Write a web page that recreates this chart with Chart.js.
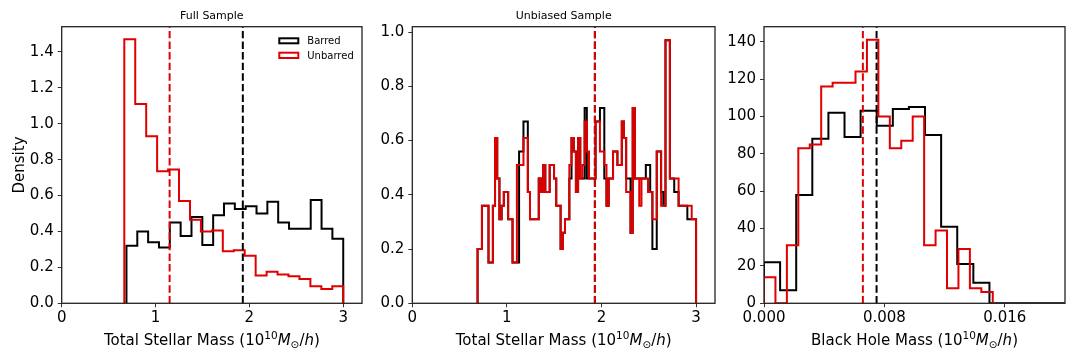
<!DOCTYPE html>
<html>
<head>
<meta charset="utf-8">
<script src="https://cdn.jsdelivr.net/npm/chart.js@4.4.0/dist/chart.umd.min.js"></script>
<style>
html, body { margin: 0; padding: 0; background: #fff; }
#wrap { position: relative; width: 1080px; height: 360px; }
canvas { position: absolute; top: 0; }
</style>
</head>
<body>
<div id="wrap">
  <canvas id="c1" width="370" height="360" style="left:0px"></canvas>
  <canvas id="c2" width="355" height="360" style="left:370px"></canvas>
  <canvas id="c3" width="355" height="360" style="left:725px"></canvas>
</div>
<script>
// ---- data ----
// Full sample: total stellar mass density, 20 bins each
const fullRangeBarred = [0.69, 3.0];
const fullRangeUnbarred = [0.667, 3.0];
const fullBarred = [0.32, 0.40, 0.34, 0.31, 0.45, 0.375, 0.48, 0.325, 0.49, 0.555,
                    0.525, 0.54, 0.50, 0.565, 0.45, 0.415, 0.415, 0.575, 0.415, 0.36];
const fullUnbarred = [1.47, 1.11, 0.93, 0.735, 0.745, 0.57, 0.465, 0.40, 0.405, 0.29,
                      0.295, 0.265, 0.155, 0.175, 0.16, 0.15, 0.135, 0.095, 0.08, 0.095];
const fullMeans = [1.93, 1.15]; // barred, unbarred

// Unbiased sample: 100 bins
const unbiasedRange = [0.69, 3.0];
const unbiasedBarred = [
  .20,.20,.36,.36,.36,.15,.15,.36,.61,.46,
  .31,.36,.41,.41,.31,.31,.15,.15,.15,.56,
  .56,.67,.67,.41,.31,.31,.31,.31,.46,.41,
  .51,.41,.41,.51,.51,.46,.36,.36,.20,.26,
  .31,.31,.46,.61,.56,.41,.61,.46,.46,.72,
  .46,.46,.46,.46,.67,.67,.72,.72,.46,.36,
  .46,.46,.56,.56,.51,.51,.67,.61,.46,.46,
  .26,.72,.46,.46,.46,.46,.46,.51,.51,.41,
  .20,.20,.56,.56,.41,.36,.97,.97,.46,.46,
  .41,.41,.36,.36,.36,.36,.31,.31,.31,.31];
const unbiasedUnbarred = [
  .20,.20,.36,.36,.36,.15,.15,.36,.61,.46,
  .31,.36,.41,.41,.31,.31,.15,.15,.51,.51,
  .51,.61,.61,.41,.31,.31,.31,.31,.46,.41,
  .51,.41,.41,.51,.51,.46,.36,.36,.20,.26,
  .31,.31,.51,.61,.56,.41,.61,.46,.51,.67,
  .56,.46,.46,.46,.67,.67,.56,.56,.51,.36,
  .46,.46,.56,.56,.51,.51,.67,.61,.41,.41,
  .26,.72,.46,.46,.36,.46,.46,.46,.41,.41,
  .31,.31,.56,.56,.36,.36,.97,.97,.46,.46,
  .46,.46,.36,.36,.36,.36,.36,.36,.31,.31];
const unbiasedMeans = [1.93, 1.93];

// Black hole mass, 20 bins each
const bhRangeBarred = [0, 0.0214];
const bhRangeUnbarred = [0, 0.0152];
const bhBarred = [22, 7, 58, 88, 102, 89, 103, 95, 104, 105, 90, 41, 21, 11, 0, 0, 0, 0, 0, 0];
const bhUnbarred = [14, 0, 31, 83, 85, 116, 118, 118, 124, 141, 100, 83, 87, 100, 31, 39, 8, 29, 8, 6];
const bhMeans = [0.00748, 0.00657];

const massTicks = [0, 1, 2, 3];
const fullYTicks = [0, 0.2, 0.4, 0.6, 0.8, 1.0, 1.2, 1.4];
const unbiasedYTicks = [0, 0.2, 0.4, 0.6, 0.8, 1.0];
const bhXTicks = [0, 0.008, 0.016];
const bhYTicks = [0, 20, 40, 60, 80, 100, 120, 140];

// ---- drawing ----
const RED = '#e00000';
const BLACK = '#000000';
const FONT = '"DejaVu Sans"';
Chart.defaults.font.family = FONT;
Chart.defaults.color = '#000';

function stepPoints(range, vals) {
  const w = (range[1] - range[0]) / vals.length;
  const pts = [{x: range[0], y: 0}];
  vals.forEach((v, i) => pts.push({x: range[0] + i * w, y: v}));
  pts.push({x: range[1], y: 0});
  return pts;
}

function hist(color, range, vals) {
  return {
    data: stepPoints(range, vals), borderColor: color, borderWidth: 2,
    stepped: 'before', pointRadius: 0, fill: false, borderJoinStyle: 'miter'
  };
}

function meanLine(color, x, top) {
  return {
    data: [{x: x, y: 0}, {x: x, y: top}], borderColor: color, borderWidth: 2,
    borderDash: [7.4, 3.2], pointRadius: 0, fill: false
  };
}

function massLabel(name) {
  return [
    {t: name + ' (10', font: `15px ${FONT}`},
    {t: '10', font: `10.5px ${FONT}`, dy: -6},
    {t: 'M', font: `italic 15px ${FONT}`},
    {t: '\u2299', font: `10.5px ${FONT}`, dy: 2.5},
    {t: '/', font: `15px ${FONT}`},
    {t: 'h', font: `italic 15px ${FONT}`},
    {t: ')', font: `15px ${FONT}`}
  ];
}

function drawRich(ctx, segs, cx, baseline) {
  let total = 0;
  segs.forEach(s => { ctx.font = s.font; s.w = ctx.measureText(s.t).width; total += s.w; });
  let x = cx - total / 2;
  ctx.textAlign = 'left';
  ctx.textBaseline = 'alphabetic';
  ctx.fillStyle = '#000';
  segs.forEach(s => { ctx.font = s.font; ctx.fillText(s.t, x, baseline + (s.dy || 0)); x += s.w; });
}

function decor(cfg) {
  return {
    id: 'decor',
    afterDraw(chart) {
      const ctx = chart.ctx, ca = chart.chartArea;
      ctx.save();
      ctx.strokeStyle = '#222';
      ctx.lineWidth = 1.3;
      ctx.strokeRect(ca.left, ca.top, ca.right - ca.left, ca.bottom - ca.top);
      drawRich(ctx, cfg.xLabel, (ca.left + ca.right) / 2, 345);
      if (cfg.yLabel) {
        ctx.translate(23.5, (ca.top + ca.bottom) / 2);
        ctx.rotate(-Math.PI / 2);
        ctx.font = `15px ${FONT}`;
        ctx.textAlign = 'center';
        ctx.textBaseline = 'alphabetic';
        ctx.fillText(cfg.yLabel, 0, 0);
        ctx.setTransform(1, 0, 0, 1, 0, 0);
      }
      if (cfg.legend) {
        const x0 = ca.right - 82.7;
        ctx.lineWidth = 2;
        ctx.strokeStyle = BLACK;
        ctx.strokeRect(x0, 38.3, 19, 5);
        ctx.strokeStyle = RED;
        ctx.strokeRect(x0, 52.7, 19, 5.3);
        ctx.font = `10px ${FONT}`;
        ctx.fillStyle = '#000';
        ctx.textAlign = 'left';
        ctx.textBaseline = 'alphabetic';
        ctx.fillText('Barred', x0 + 28, 44.2);
        ctx.fillText('Unbarred', x0 + 28, 58.6);
      }
      ctx.restore();
    }
  };
}

function makePanel(id, cfg) {
  return new Chart(document.getElementById(id), {
    type: 'line',
    data: {
      datasets: [
        meanLine(RED, cfg.means[1], cfg.yMax),
        meanLine(BLACK, cfg.means[0], cfg.yMax),
        hist(RED, cfg.rangeUnbarred, cfg.unbarred),
        hist(BLACK, cfg.rangeBarred, cfg.barred)
      ]
    },
    options: {
      responsive: false,
      animation: false,
      devicePixelRatio: 1,
      layout: {autoPadding: false, padding: {left: 0, right: cfg.padRight, top: cfg.title ? 0 : 26.7, bottom: 0}},
      plugins: {
        legend: {display: false},
        tooltip: {enabled: false},
        title: {
          display: !!cfg.title, text: cfg.title || '', fullSize: false,
          font: {size: 11, weight: 'normal'}, color: '#000',
          padding: {top: 9.4, bottom: 4.1}
        }
      },
      scales: {
        x: {
          type: 'linear', min: cfg.xMin, max: cfg.xMax,
          afterBuildTicks: s => { s.ticks = cfg.xTicks.map(v => ({value: v})); },
          afterFit: s => { s.height = 56.7; },
          ticks: {font: {size: 15}, color: '#000', padding: 2, maxRotation: 0, autoSkip: false,
                  callback: v => cfg.xFmt(v)},
          grid: {drawOnChartArea: false, tickLength: 4, color: '#333'},
          border: {display: false}
        },
        y: {
          type: 'linear', min: 0, max: cfg.yMax,
          afterBuildTicks: s => { s.ticks = cfg.yTicks.map(v => ({value: v})); },
          afterFit: s => { s.width = cfg.yWidth; },
          ticks: {font: {size: 15}, color: '#000', padding: 4, autoSkip: false,
                  callback: v => cfg.yFmt(v)},
          grid: {drawOnChartArea: false, tickLength: 4, color: '#333'},
          border: {display: false}
        }
      }
    },
    plugins: [decor(cfg)]
  });
}

makePanel('c1', {
  title: 'Full Sample', legend: true, yLabel: 'Density',
  xLabel: massLabel('Total Stellar Mass'),
  barred: fullBarred, unbarred: fullUnbarred,
  rangeBarred: fullRangeBarred, rangeUnbarred: fullRangeUnbarred, means: fullMeans,
  xMin: 0, xMax: 3.2, yMax: 1.54, xTicks: massTicks, yTicks: fullYTicks,
  xFmt: v => String(v), yFmt: v => v.toFixed(1),
  yWidth: 61.7, padRight: 8
});

makePanel('c2', {
  title: 'Unbiased Sample',
  xLabel: massLabel('Total Stellar Mass'),
  barred: unbiasedBarred, unbarred: unbiasedUnbarred,
  rangeBarred: unbiasedRange, rangeUnbarred: unbiasedRange, means: unbiasedMeans,
  xMin: 0, xMax: 3.2, yMax: 1.02, xTicks: massTicks, yTicks: unbiasedYTicks,
  xFmt: v => String(v), yFmt: v => v.toFixed(1),
  yWidth: 42.3, padRight: 10
});

makePanel('c3', {
  xLabel: massLabel('Black Hole Mass'),
  barred: bhBarred, unbarred: bhUnbarred,
  rangeBarred: bhRangeBarred, rangeUnbarred: bhRangeUnbarred, means: bhMeans,
  xMin: 0, xMax: 0.02, yMax: 148, xTicks: bhXTicks, yTicks: bhYTicks,
  xFmt: v => v.toFixed(3), yFmt: v => String(Math.round(v)),
  yWidth: 39, padRight: 15
});
</script>
</body>
</html>
